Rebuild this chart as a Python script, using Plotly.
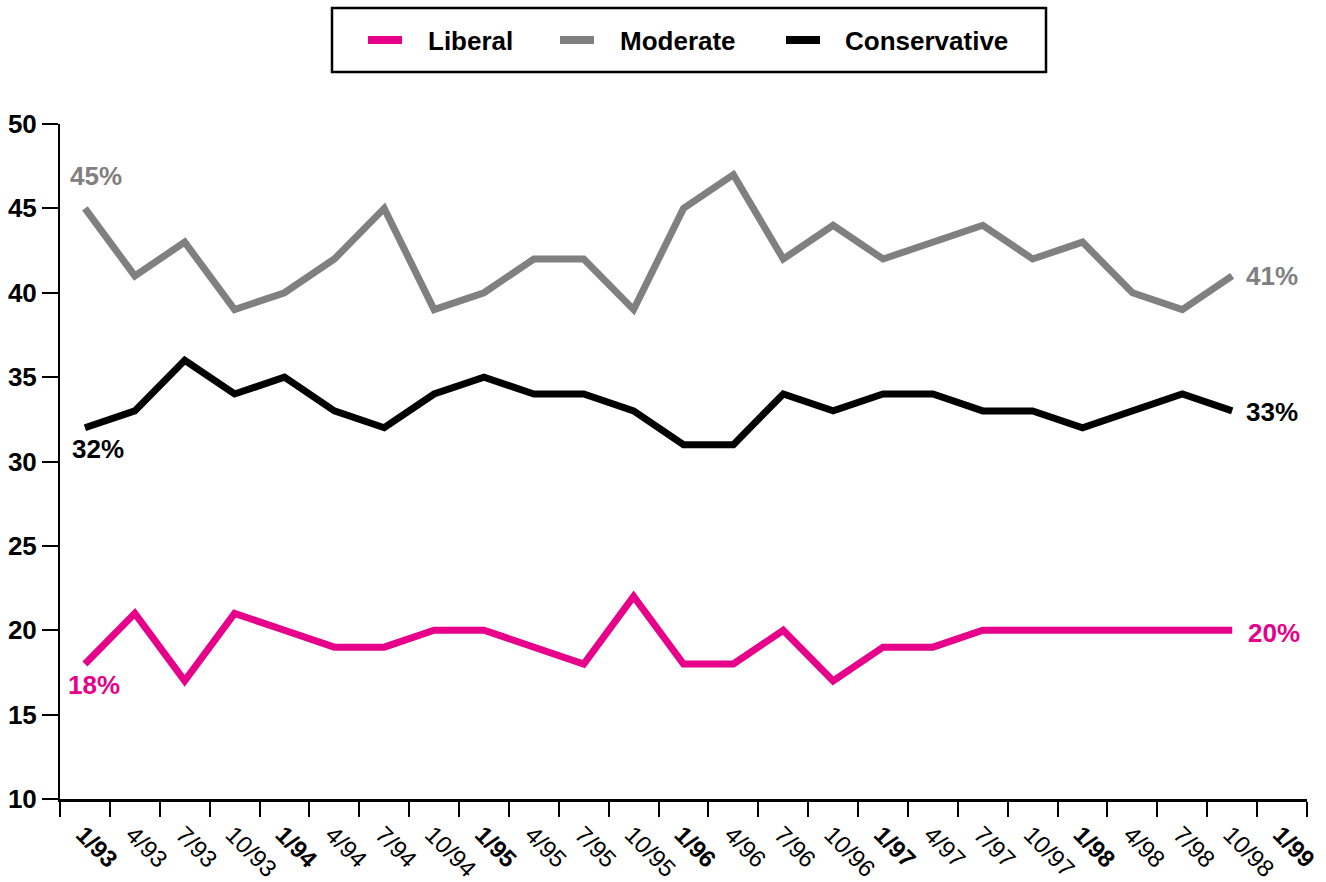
import plotly.graph_objects as go

categories = ["<b>1/93</b>", "4/93", "7/93", "10/93", "<b>1/94</b>", "4/94", "7/94", "10/94",
              "<b>1/95</b>", "4/95", "7/95", "10/95", "<b>1/96</b>", "4/96", "7/96", "10/96",
              "<b>1/97</b>", "4/97", "7/97", "10/97", "<b>1/98</b>", "4/98", "7/98", "10/98",
              "<b>1/99</b>"]

liberal = [18, 21, 17, 21, 20, 19, 19, 20, 20, 19, 18, 22, 18, 18, 20, 17, 19, 19, 20, 20, 20, 20, 20, 20]
moderate = [45, 41, 43, 39, 40, 42, 45, 39, 40, 42, 42, 39, 45, 47, 42, 44, 42, 43, 44, 42, 43, 40, 39, 41]
conservative = [32, 33, 36, 34, 35, 33, 32, 34, 35, 34, 34, 33, 31, 31, 34, 33, 34, 34, 33, 33, 32, 33, 34, 33]

series_names = ["Liberal", "Moderate", "Conservative"]

PINK = "#E6008A"
GRAY = "#808080"
BLACK = "#000000"
FONT = "Liberation Sans"

# plot-area geometry in pixels (used to place the legend in paper coordinates)
W, H = 1326, 882
ML, MR, MT, MB = 60, 19, 124, 83
PW, PH = W - ML - MR, H - MT - MB


def px(x):
    return (x - ML) / PW


def py(y):
    return 1 + (MT - y) / PH


fig = go.Figure()
series = list(zip(series_names, [liberal, moderate, conservative], [PINK, GRAY, BLACK]))
for name, vals, col in series:
    fig.add_trace(go.Scatter(x=categories[:len(vals)], y=vals, mode="lines", name=name,
                             showlegend=False, line=dict(color=col, width=7)))

# end-point labels: (x, y, text, colour, xanchor, yanchor, xshift, yshift)
last = len(liberal) - 1
ann = [
    (categories[0], moderate[0], f"{moderate[0]}%", GRAY, "center", "bottom", 11, 15),
    (categories[0], conservative[0], f"{conservative[0]}%", BLACK, "center", "top", 13, -4),
    (categories[0], liberal[0], f"{liberal[0]}%", PINK, "center", "top", 9, -4),
    (categories[last], moderate[last], f"{moderate[last]}%", GRAY, "left", "middle", 12, 0),
    (categories[last], conservative[last], f"{conservative[last]}%", BLACK, "left", "middle", 12, -1),
    (categories[last], liberal[last], f"{liberal[last]}%", PINK, "left", "middle", 14, -3),
]
for x, y, t, c, xa, ya, dx, dy in ann:
    fig.add_annotation(x=x, y=y, text=f"<b>{t}</b>", showarrow=False, xanchor=xa, yanchor=ya,
                       xshift=dx, yshift=dy, font=dict(family=FONT, size=26, color=c))

# legend: framed box with line swatches and labels
fig.add_shape(type="rect", xref="paper", yref="paper",
              x0=px(332), x1=px(1046), y0=py(72), y1=py(8),
              line=dict(color="black", width=2.5), fillcolor="white", layer="above")
legend_line_x = [368, 560, 786]
legend_text_x = [426, 618, 843]
for (name, _, col), lx, tx in zip(series, legend_line_x, legend_text_x):
    fig.add_shape(type="line", xref="paper", yref="paper",
                  x0=px(lx), x1=px(lx + 34), y0=py(40), y1=py(40),
                  line=dict(color=col, width=8), layer="above")
    fig.add_annotation(xref="paper", yref="paper", x=px(tx), y=py(41), text=f"<b>{name}</b>",
                       showarrow=False, xanchor="left", yanchor="middle",
                       font=dict(family=FONT, size=26, color="black"))

fig.update_xaxes(type="category", categoryorder="array", categoryarray=categories,
                 range=[-0.5, 24.5], tickson="boundaries", ticks="outside", ticklen=15,
                 tickwidth=1.5, tickcolor="black", tickangle=45, automargin=False,
                 ticklabelstandoff=9, ticklabelshift=-2,
                 tickfont=dict(family=FONT, size=24, color="black"),
                 showline=True, linecolor="black", linewidth=3, showgrid=False, zeroline=False)
fig.update_yaxes(range=[10, 50], tickvals=list(range(10, 51, 5)), ticks="outside", ticklen=16,
                 tickwidth=1.5, tickcolor="black", automargin=False,
                 tickfont=dict(family=FONT, size=26, color="black", weight="bold"),
                 showline=True, linecolor="black", linewidth=2, showgrid=False, zeroline=False)

fig.update_layout(
    width=W, height=H,
    margin=dict(l=ML, r=MR, t=MT, b=MB, autoexpand=False),
    plot_bgcolor="white", paper_bgcolor="white",
    showlegend=False,
)

fig.write_html("out.html", config={"displayModeBar": False},
               post_script="document.body.style.margin='0';")
